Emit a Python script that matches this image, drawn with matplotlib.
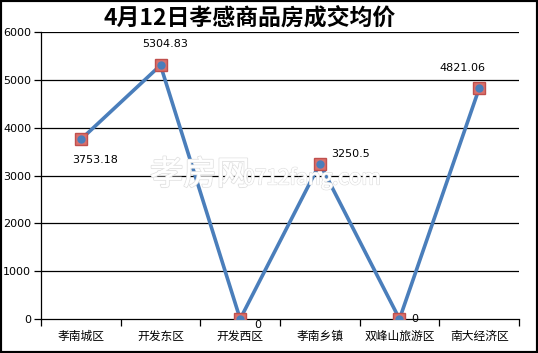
import matplotlib
matplotlib.use("Agg")
import matplotlib.pyplot as plt
import matplotlib.patheffects as pe
from matplotlib.patches import Rectangle

plt.rcParams['font.family'] = ['Noto Sans CJK SC', 'DejaVu Sans']

categories = ['孝南城区', '开发东区', '开发西区', '孝南乡镇', '双峰山旅游区', '南大经济区']
values = [3753.18, 5304.83, 0, 3250.5, 0, 4821.06]
labels = ['3753.18', '5304.83', '0', '3250.5', '0', '4821.06']
yticks = [0, 1000, 2000, 3000, 4000, 5000, 6000]
title = '4月12日孝感商品房成交均价'

W, H = 538, 353
fig = plt.figure(figsize=(W / 100, H / 100), dpi=100)
ax = fig.add_axes([41 / W, 1 - 319 / H, (519 - 41) / W, (319 - 32) / H])

x = [i + 0.5 for i in range(len(categories))]
ax.set_xlim(0, len(categories))
ax.set_ylim(0, 6000)

for yv in yticks[1:]:
    ax.axhline(yv, color='black', lw=0.9, zorder=1)

ax.plot(x, values, color='#4a7ebb', lw=2.6, zorder=3, solid_capstyle='round', solid_joinstyle='round')
ax.plot(x, values, ls='none', marker='s', ms=8, mfc='#d9706c', mec='#c0504d', mew=1, zorder=4)
ax.plot(x, values, ls='none', marker='o', ms=5, mfc='#4a7ebb', mec='#4a7ebb', zorder=5)

offsets = [(10, -15), (3, 15), (13, -4), (22, 7), (11, 0), (-12, 15)]
for xi, v, lab, (dx, dy) in zip(x, values, labels, offsets):
    ax.annotate(lab, (xi, v), xytext=(dx, dy), textcoords='offset points',
                ha='center', va='center', fontsize=8, family='DejaVu Sans', zorder=6)

ax.set_yticks(yticks)
ax.set_yticklabels([str(t) for t in yticks], fontsize=8, family='DejaVu Sans')
ax.set_xticks(x)
ax.set_xticklabels(categories, fontsize=8.5)
ax.set_xticks(list(range(len(categories) + 1)), minor=True)
ax.tick_params(axis='x', which='major', length=0, pad=8)
ax.tick_params(axis='x', which='minor', length=5, direction='out', width=0.9)
ax.tick_params(axis='y', length=5, direction='out', width=0.9, pad=2)

for s in ['top', 'right']:
    ax.spines[s].set_visible(False)
ax.spines['left'].set_linewidth(0.9)
ax.spines['bottom'].set_linewidth(0.9)

fig.text(200 / W, 1 - 175 / H, '孝房网', fontsize=24, color='white', ha='center', va='center',
         path_effects=[pe.withStroke(linewidth=1.4, foreground='#e2e2e2'), pe.Normal()], zorder=2)
fig.text(312 / W, 1 - 178 / H, '0712fang.com', fontsize=15, color='white', ha='center', va='center',
         path_effects=[pe.withStroke(linewidth=1.2, foreground='#e2e2e2'), pe.Normal()], zorder=2)

fig.text(250 / W, 1 - 18 / H, title, fontsize=16.5, fontweight='bold', ha='center', va='center')

fig.patches.append(Rectangle((0, 0), 1, 1, transform=fig.transFigure, fill=False,
                             edgecolor='black', lw=3, zorder=10))

fig.savefig('out.png', dpi=100)
